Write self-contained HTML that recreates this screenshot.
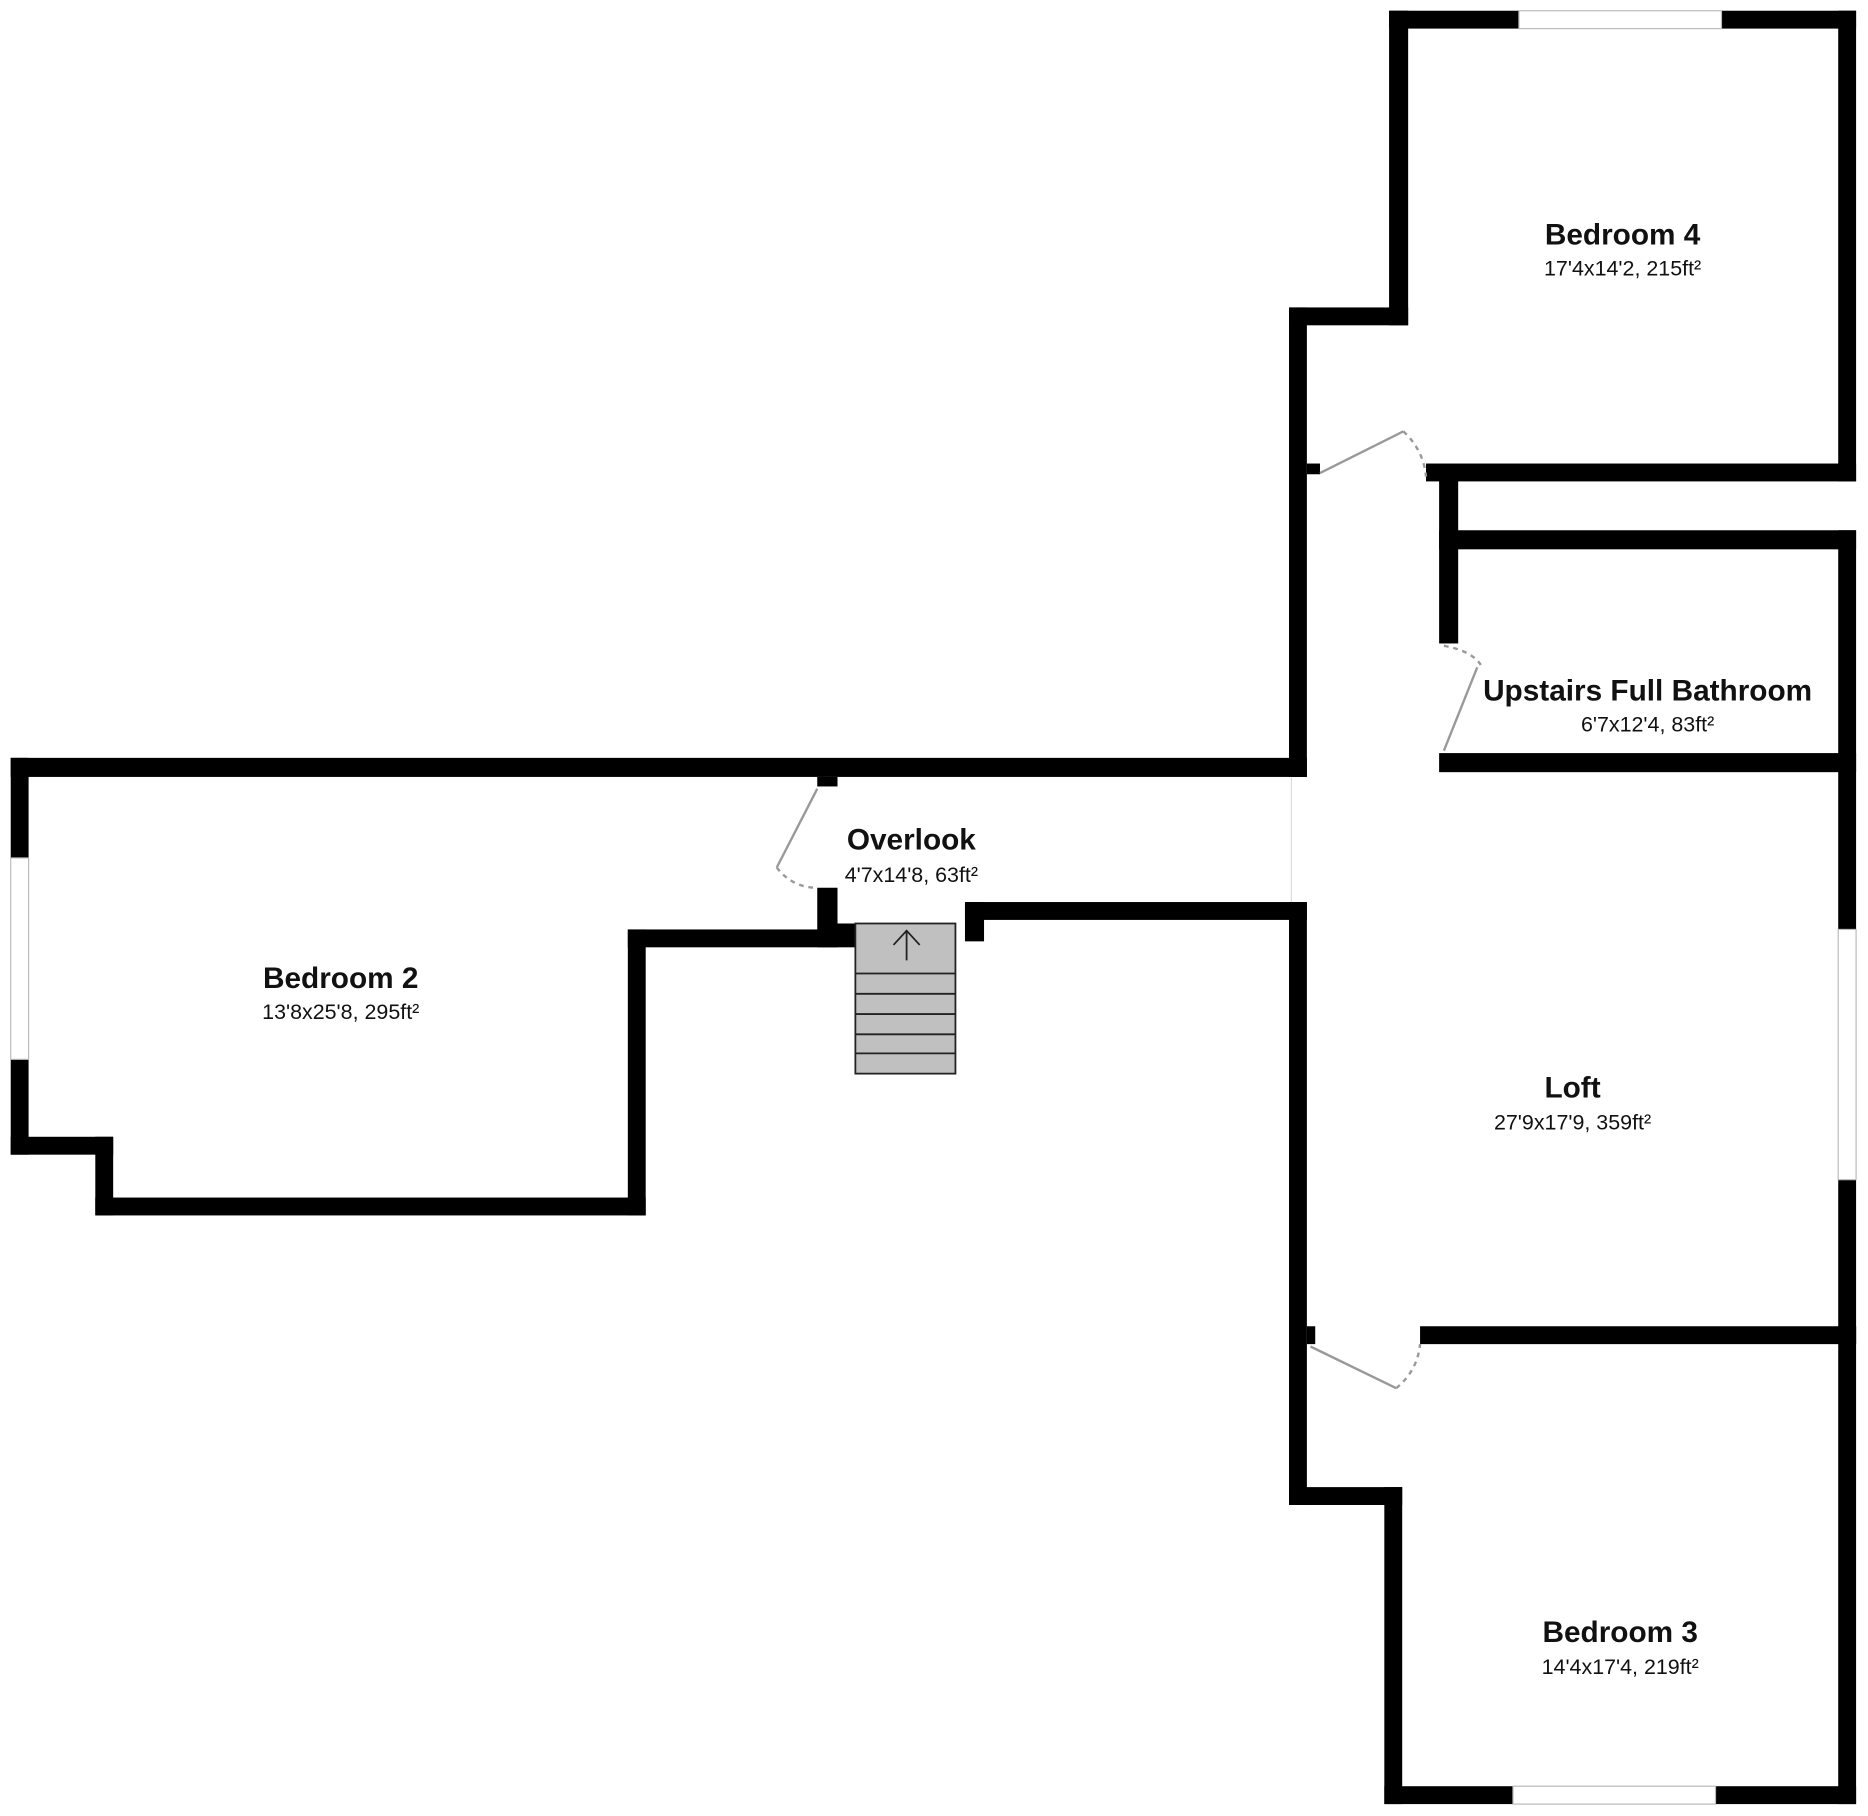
<!DOCTYPE html>
<html><head><meta charset="utf-8"><style>
html,body{margin:0;padding:0;background:#fff;}
svg{display:block}
text{font-family:"Liberation Sans",Arial,sans-serif;fill:#111;text-anchor:middle}
.t{font-weight:bold;font-size:25px}
.s{font-size:18px}
</style></head><body>
<svg width="1868" height="1816" viewBox="0 0 1568 1524" preserveAspectRatio="none" xmlns="http://www.w3.org/2000/svg">
<rect width="1568" height="1524" fill="#fff"/>
<g fill="#000">
<rect x="1166" y="9" width="392" height="15"/>
<rect x="1543" y="9" width="15" height="395"/>
<rect x="1197" y="389" width="361" height="15"/>
<rect x="1166" y="9" width="16" height="264"/>
<rect x="1082" y="258" width="100" height="15"/>
<rect x="1082" y="258" width="15" height="394"/>
<rect x="1097" y="389" width="11" height="9"/>
<rect x="1208" y="398" width="16" height="142"/>
<rect x="1208" y="445" width="350" height="16"/>
<rect x="1543" y="445" width="15" height="683"/>
<rect x="1208" y="632" width="350" height="16"/>
<rect x="9" y="636" width="1088" height="16"/>
<rect x="9" y="636" width="15" height="333"/>
<rect x="9" y="954" width="86" height="15"/>
<rect x="80" y="954" width="15" height="66"/>
<rect x="80" y="1005" width="462" height="15"/>
<rect x="527" y="780" width="15" height="240"/>
<rect x="527" y="780" width="176" height="15"/>
<rect x="686" y="652" width="17" height="8"/>
<rect x="686" y="745" width="17" height="50"/>
<rect x="703" y="775" width="15" height="20"/>
<rect x="810" y="757" width="16" height="33"/>
<rect x="810" y="757" width="287" height="15"/>
<rect x="1082" y="757" width="15" height="506"/>
<rect x="1192" y="1113" width="366" height="15"/>
<rect x="1097" y="1113" width="7" height="15"/>
<rect x="1082" y="1248" width="95" height="15"/>
<rect x="1162" y="1248" width="15" height="266"/>
<rect x="1162" y="1499" width="396" height="15"/>
<rect x="1543" y="1113" width="15" height="401"/>
</g>
<g fill="#fff" stroke="#bbb" stroke-width="1">
<rect x="1275" y="9" width="170" height="15"/>
<rect x="9" y="720" width="15" height="169"/>
<rect x="1543" y="780" width="15" height="210"/>
<rect x="1270" y="1499" width="170" height="15"/>
</g>
<line x1="1084" y1="652" x2="1084" y2="757" stroke="#ddd" stroke-width="1"/>
<g stroke="#999" stroke-width="2" fill="none">
<line x1="1108" y1="397" x2="1178" y2="362"/>
<path d="M1178 362 Q1195 378 1197 400" stroke-dasharray="4,4"/>
<line x1="1212" y1="630" x2="1240" y2="560"/>
<path d="M1212 542 Q1235 546 1243 558" stroke-dasharray="4,4"/>
<line x1="686" y1="662" x2="652" y2="728"/>
<path d="M652 728 Q665 745 686 745" stroke-dasharray="4,4"/>
<line x1="1100" y1="1130" x2="1172" y2="1165"/>
<path d="M1172 1165 Q1190 1150 1192 1128" stroke-dasharray="4,4"/>
</g>
<g stroke="#222" stroke-width="1.5">
<rect x="718" y="775" width="84" height="126" fill="#c0c0c0"/>
<line x1="718" y1="817" x2="802" y2="817"/>
<line x1="718" y1="834" x2="802" y2="834"/>
<line x1="718" y1="851" x2="802" y2="851"/>
<line x1="718" y1="868" x2="802" y2="868"/>
<line x1="718" y1="884" x2="802" y2="884"/>
<path d="M761 806 V781 M750 793 L761 781 L772 793" fill="none"/>
</g>
<text class="t" x="1362" y="205">Bedroom 4</text>
<text class="s" x="1362" y="231">17'4x14'2, 215ft²</text>
<text class="t" x="1383" y="588">Upstairs Full Bathroom</text>
<text class="s" x="1383" y="614">6'7x12'4, 83ft²</text>
<text class="t" x="765" y="713">Overlook</text>
<text class="s" x="765" y="740">4'7x14'8, 63ft²</text>
<text class="t" x="286" y="829">Bedroom 2</text>
<text class="s" x="286" y="855">13'8x25'8, 295ft²</text>
<text class="t" x="1320" y="921">Loft</text>
<text class="s" x="1320" y="948">27'9x17'9, 359ft²</text>
<text class="t" x="1360" y="1378">Bedroom 3</text>
<text class="s" x="1360" y="1405">14'4x17'4, 219ft²</text>
</svg>
</body></html>
